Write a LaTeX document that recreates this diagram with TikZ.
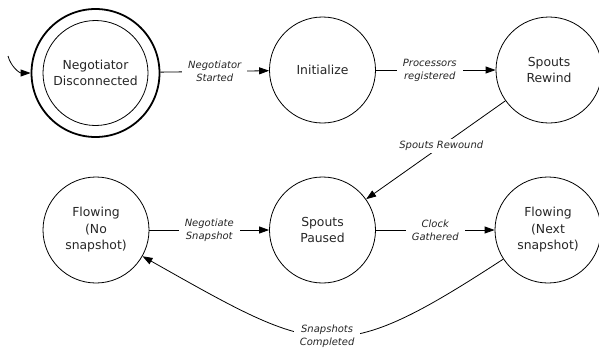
\documentclass[tikz,border=0pt]{standalone}
\usepackage{fontspec}
\setmainfont{DejaVu Sans}
\usetikzlibrary{arrows.meta}
\begin{document}
\begin{tikzpicture}[x=1pt,y=-1pt,
  state/.style={circle, draw, line width=0.8pt, inner sep=0pt, minimum size=106pt, align=center, font=\fontsize{12.4}{16.5}\selectfont, text=black!85},
  edge/.style={line width=0.8pt, -{Triangle[length=10pt,width=7pt]}},
  lbl/.style={fill=white, inner xsep=6pt, inner ysep=2pt, align=center, font=\fontsize{10}{13}\selectfont\itshape, text=black!85}]
\useasboundingbox (0,0) rectangle (599,351);
\node[state, minimum size=105pt] (neg) at (95.5,73) {Negotiator\\Disconnected};
\node[circle, draw, line width=1.8pt, inner sep=0pt, minimum size=128pt] (negout) at (neg) {};
\node[state] (init) at (322.5,70) {Initialize};
\node[state] (rew) at (549,70) {Spouts\\Rewind};
\node[state] (fno) at (96,230) {Flowing\\(No\\snapshot)};
\node[state] (pau) at (322.5,230) {Spouts\\Paused};
\node[state] (fnx) at (548,230) {Flowing\\(Next\\snapshot)};
\coordinate (start) at (8,56);
\coordinate (c1) at (336,368);
\coordinate (c2) at (321,357);
\draw[edge] (start) to[out=-75,in=180] (negout);
\draw[edge] (negout) -- node[lbl]{Negotiator\\Started} (init);
\draw[edge] (init) -- node[lbl, pos=0.45]{Processors\\registered} (rew);
\draw[edge] (rew) -- node[lbl, pos=0.46]{Spouts Rewound} (pau);
\draw[edge] (fno) -- node[lbl]{Negotiate\\Snapshot} (pau);
\draw[edge] (pau) -- node[lbl]{Clock\\Gathered} (fnx);
\draw[edge] (fnx) .. controls (c1) and (c2) .. node[lbl]{Snapshots\\Completed} (fno);
\end{tikzpicture}
\end{document}
